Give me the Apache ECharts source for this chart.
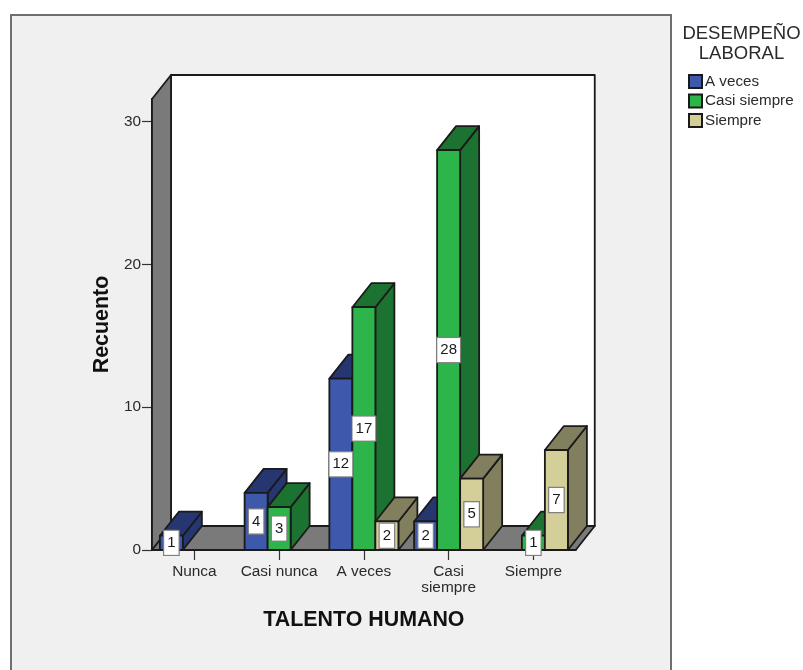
<!DOCTYPE html>
<html>
<head>
<meta charset="utf-8">
<title>Talento humano y desempeño laboral</title>
<style>
  html, body { margin: 0; padding: 0; background: #ffffff; }
  #chart { width: 803px; height: 670px; }
</style>
<script src="https://cdn.jsdelivr.net/npm/echarts@6/dist/echarts.min.js"></script>
</head>
<body>
<div id="chart"></div>
<script>
// Counts per category of TALENTO HUMANO, one list per DESEMPEÑO LABORAL level
const categories = ['Nunca', 'Casi nunca', 'A veces', 'Casi\nsiempre', 'Siempre'];
const aVeces      = [1, 4, 12, 2, null];
const casiSiempre = [null, 3, 17, 28, 1];
const siempre     = [null, null, 2, 5, 7];
const yTicks = [0, 10, 20, 30];

const seriesNames = ['A veces', 'Casi siempre', 'Siempre'];
const seriesValues = [aVeces, casiSiempre, siempre];
const frontColors = ['#3e58ac', '#2db54b', '#d4cf98'];
const shadeColors = ['#253670', '#1c7230', '#827f5e'];

const FONT = '"Liberation Sans", Arial, sans-serif';
const EDGE = '#1a1a1a';
const WALL = '#7a7a7a';
// Oblique offset of the 3D box, in pixels
const DEPTH_X = 19;
const DEPTH_Y = -24;
const SLOT_RATIO = 0.2715;

function poly(points, fill, z2) {
  return {
    type: 'polygon',
    z2: z2,
    shape: { points: points },
    style: { fill: fill, stroke: EDGE, lineWidth: 1.8, lineJoin: 'round' }
  };
}

// Back wall, side wall and floor of the box, taken from the grid rectangle
function renderWalls(params) {
  const r = params.coordSys;
  const l = r.x, t = r.y, b = r.y + r.height, w = r.x + r.width;
  const dx = DEPTH_X, dy = DEPTH_Y;
  return {
    type: 'group',
    children: [
      poly([[l + dx, t + dy], [w + dx, t + dy], [w + dx, b + dy], [l + dx, b + dy]], '#ffffff', -30),
      poly([[l, t], [l + dx, t + dy], [l + dx, b + dy], [l, b]], WALL, -20),
      poly([[l, b], [l + dx, b + dy], [w + dx, b + dy], [w, b]], WALL, -20)
    ]
  };
}

// One oblique bar: front face, top, side and its value box
function barRenderer(seriesIndex) {
  return function (params, api) {
    const cat = api.value(0);
    const val = api.value(1);
    const base = api.coord([cat, 0]);
    const head = api.coord([cat, val]);
    const slot = api.size([1, 0])[0] * SLOT_RATIO;
    const x0 = base[0] + (seriesIndex - 1.5) * slot;
    const x1 = x0 + slot;
    const yb = base[1], yt = head[1];
    const dx = DEPTH_X, dy = DEPTH_Y;
    const order = cat * 3 + seriesIndex;
    return {
      type: 'group',
      children: [
        poly([[x1, yt], [x1 + dx, yt + dy], [x1 + dx, yb + dy], [x1, yb]], shadeColors[seriesIndex], order),
        poly([[x0, yt], [x0 + dx, yt + dy], [x1 + dx, yt + dy], [x1, yt]], shadeColors[seriesIndex], order),
        poly([[x0, yt], [x1, yt], [x1, yb], [x0, yb]], frontColors[seriesIndex], order),
        {
          type: 'text',
          z2: 100,
          x: (x0 + x1) / 2,
          y: (yt + yb) / 2,
          style: {
            text: String(val),
            align: 'center',
            verticalAlign: 'middle',
            fontFamily: FONT,
            fontSize: 15,
            fill: '#1a1a1a',
            backgroundColor: '#ffffff',
            borderColor: '#808080',
            borderWidth: 1.2,
            padding: [5, 3, 4, 3]
          }
        }
      ]
    };
  };
}

const barSeries = seriesNames.map(function (name, i) {
  return {
    type: 'custom',
    name: name,
    coordinateSystem: 'cartesian2d',
    renderItem: barRenderer(i),
    itemStyle: { color: frontColors[i], borderColor: EDGE, borderWidth: 1.5 },
    encode: { x: 0, y: 1 },
    data: seriesValues[i]
      .map(function (v, c) { return [c, v]; })
      .filter(function (d) { return d[1] !== null; }),
    z: 3
  };
});

const chart = echarts.init(document.getElementById('chart'), null, { renderer: 'canvas' });
chart.setOption({
  backgroundColor: '#ffffff',
  animation: false,
  textStyle: { fontFamily: FONT },
  graphic: [{
    type: 'rect',
    z: -100,
    silent: true,
    shape: { x: 11, y: 15, width: 660, height: 670 },
    style: { fill: '#f0f0f0', stroke: '#6f6f6f', lineWidth: 2 }
  }],
  title: {
    text: 'DESEMPEÑO\nLABORAL',
    left: 736.5,
    top: 19,
    textAlign: 'center',
    textStyle: {
      fontFamily: FONT,
      fontSize: 18.5,
      fontWeight: 'normal',
      color: '#2a2a2a',
      lineHeight: 20
    }
  },
  legend: {
    orient: 'vertical',
    left: 688,
    top: 74,
    itemWidth: 13,
    itemHeight: 13,
    itemGap: 4.5,
    padding: 0,
    data: seriesNames.map(function (n) { return { name: n, icon: 'rect' }; }),
    textStyle: { fontFamily: FONT, fontSize: 15.2, color: '#2a2a2a', padding: [3, 0, 0, -2] }
  },
  grid: { left: 152, top: 99, width: 423.75, height: 451, containLabel: false },
  xAxis: {
    type: 'category',
    data: categories,
    name: 'TALENTO HUMANO',
    nameLocation: 'middle',
    nameGap: 60,
    nameTextStyle: { fontFamily: FONT, fontSize: 21.4, fontWeight: 'bold', color: '#111111' },
    axisLine: { show: true, lineStyle: { color: EDGE, width: 2 } },
    axisTick: { show: true, alignWithLabel: true, length: 10, lineStyle: { color: '#333333', width: 1.2 } },
    axisLabel: {
      fontFamily: FONT, fontSize: 15.4, color: '#2a2a2a', interval: 0,
      margin: 14, lineHeight: 16
    },
    splitLine: { show: false }
  },
  yAxis: {
    type: 'value',
    min: 0,
    max: 31.58,
    name: 'Recuento',
    nameLocation: 'middle',
    nameRotate: 90,
    nameGap: 38,
    nameTextStyle: { fontFamily: FONT, fontSize: 21.4, fontWeight: 'bold', color: '#111111' },
    axisLine: { show: true, lineStyle: { color: EDGE, width: 2 } },
    axisTick: { show: true, length: 10, customValues: yTicks, lineStyle: { color: '#333333', width: 1.2 } },
    axisLabel: {
      fontFamily: FONT, fontSize: 15.4, color: '#2a2a2a', margin: 11,
      padding: [3, 0, 0, 0], customValues: yTicks
    },
    splitLine: { show: false }
  },
  series: [{
    type: 'custom',
    name: 'paredes',
    coordinateSystem: 'cartesian2d',
    renderItem: renderWalls,
    silent: true,
    data: [[0, 0]],
    z: 1
  }].concat(barSeries)
});
</script>
</body>
</html>
